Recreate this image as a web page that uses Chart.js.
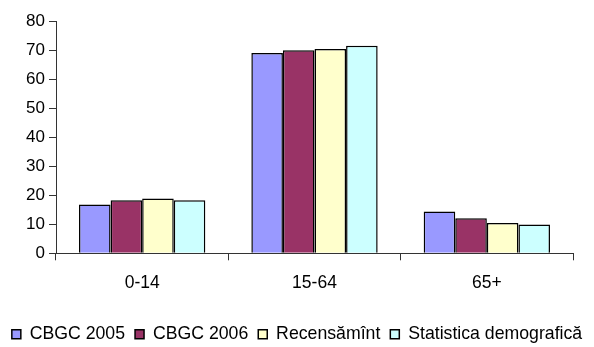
<!DOCTYPE html>
<html>
<head>
<meta charset="utf-8">
<script src="https://cdn.jsdelivr.net/npm/chart.js@4/dist/chart.umd.min.js"></script>
<style>
html,body{margin:0;padding:0;background:#fff;}
canvas{display:block;}
</style>
</head>
<body>
<canvas id="c" width="594" height="347"></canvas>
<script>
const categories = ['0-14', '15-64', '65+'];
const seriesNames = ['CBGC 2005', 'CBGC 2006', 'Recensămînt', 'Statistica demografică'];
const cbgc2005 = [16.8, 69.0, 14.4];
const cbgc2006 = [18.3, 69.9, 12.1];
const recensamint = [18.9, 70.4, 10.4];
const statistica = [18.3, 71.5, 9.9];
const yTicks = [0, 10, 20, 30, 40, 50, 60, 70, 80];

const colors = ['#9999FF', '#993366', '#FFFFCC', '#CCFFFF'];
const values = [cbgc2005, cbgc2006, recensamint, statistica];
const FONT = '"Liberation Sans", Arial, sans-serif';
const FS = 17;

const datasets = seriesNames.map((n, i) => ({
  label: n,
  data: values[i],
  backgroundColor: colors[i],
  borderColor: '#000',
  borderWidth: 1.5,
  borderSkipped: 'bottom',
  categoryPercentage: 0.733,
  barPercentage: 1.0
}));

const legendShift = {
  id: 'legendShift',
  afterLayout(chart) {
    const lg = chart.legend;
    const dy = 315.5 - lg.top;
    lg.top += dy; lg.bottom += dy;
  }
};

new Chart(document.getElementById('c'), {
  type: 'bar',
  data: { labels: categories, datasets },
  plugins: [legendShift],
  options: {
    responsive: false,
    animation: false,
    devicePixelRatio: 1,
    layout: { padding: { top: 21, right: 0, bottom: 0, left: 0 } },
    plugins: {
      tooltip: { enabled: false },
      legend: {
        position: 'bottom',
        labels: {
          boxWidth: 9,
          boxHeight: 9,
          padding: 10,
          color: '#000',
          font: { family: FONT, size: 17.7 }
        }
      }
    },
    scales: {
      x: {
        grid: { offset: true, drawOnChartArea: false, tickLength: 7, color: '#333' },
        border: { color: '#333', width: 1 },
        ticks: { color: '#000', font: { family: FONT, size: 17.5 }, padding: 12 },
        afterFit: s => { s.height = 56; }
      },
      y: {
        min: 0, max: 80,
        afterBuildTicks: s => { s.ticks = yTicks.map(v => ({ value: v })); },
        grid: { drawOnChartArea: false, tickLength: 7, color: '#333' },
        border: { color: '#333', width: 1 },
        ticks: { color: '#000', font: { family: FONT, size: FS }, padding: 4 },
        afterFit: s => { s.width = 56; }
      },
      yRight: {
        position: 'right',
        min: 0, max: 80,
        grid: { display: false },
        border: { display: false },
        ticks: { display: false },
        afterFit: s => { s.width = 21; }
      }
    }
  }
});
</script>
</body>
</html>
